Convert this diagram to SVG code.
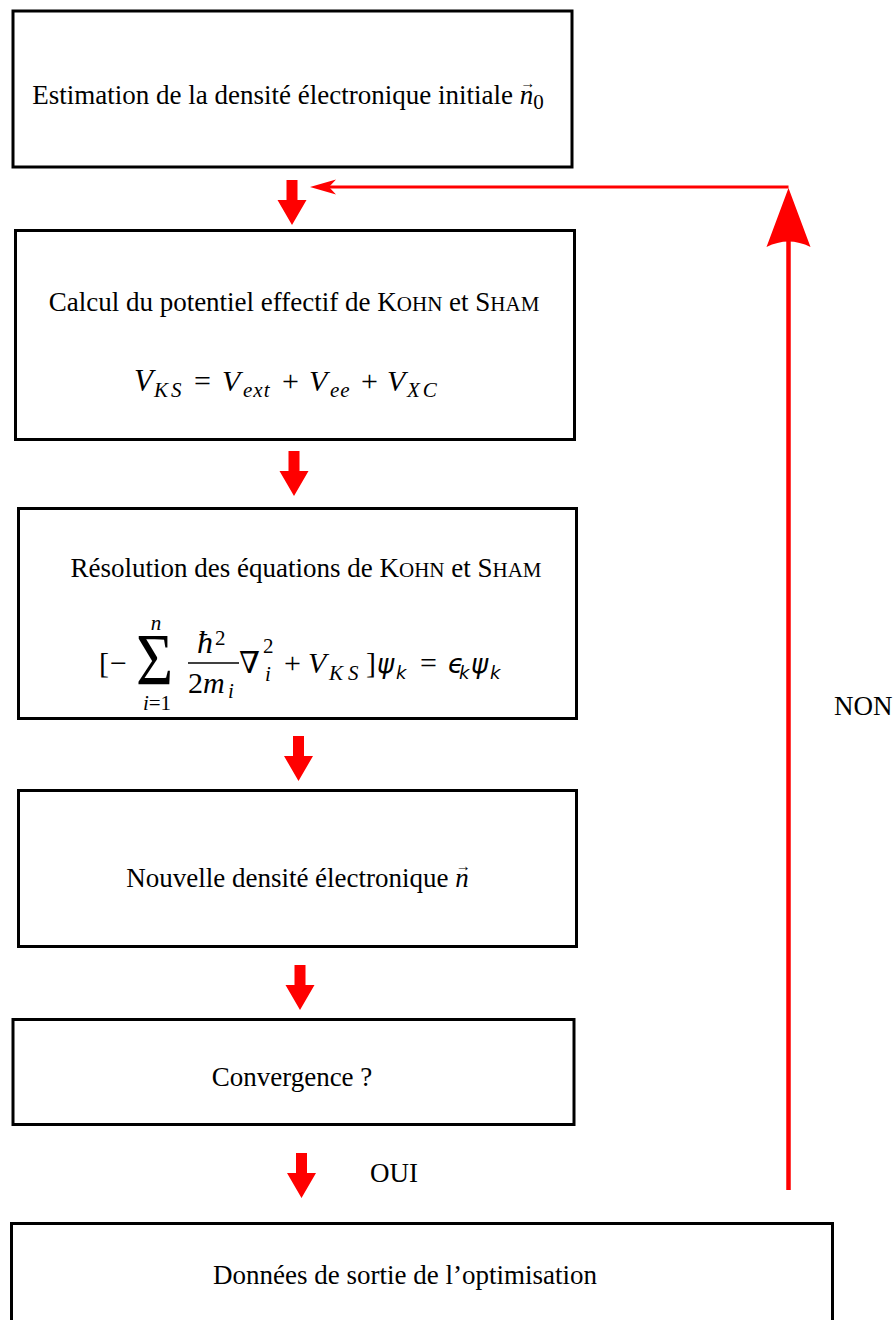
<svg xmlns="http://www.w3.org/2000/svg" width="896" height="1320" viewBox="0 0 896 1320">
<style>
.box{fill:#fff;stroke:#000;stroke-width:3}
.t{font-family:"Liberation Serif","DejaVu Serif",serif;font-size:27px;fill:#000}
.m{font-family:"Liberation Serif","DejaVu Serif",serif;font-size:30px;fill:#000}
.s{font-family:"DejaVu Sans","Liberation Sans",sans-serif;font-size:26px;fill:#000;font-style:italic}
.ss{font-family:"DejaVu Sans","Liberation Sans",sans-serif;font-size:18px;fill:#000;font-style:italic}
.i{font-style:italic}
.sc{font-size:21px}
.sub{font-size:21px}
.vec{font-size:15px;font-style:normal}
.red{fill:#ff0000}
</style>
<defs>
<path id="blk" d="M-5.5,0 H5.5 V20 H14.5 L0,45 L-14.5,20 H-5.5 Z"/>
</defs>
<rect width="896" height="1320" fill="#fff"/>

<g id="n1">
<rect class="box" x="13" y="11" width="559" height="156"/>
<text class="t" x="288" y="104" text-anchor="middle">Estimation de la densité électronique initiale <tspan class="i">n</tspan><tspan class="vec" dx="-13" dy="-16">→</tspan><tspan class="sub" dx="-2" dy="21">0</tspan></text>
</g>

<g id="n2">
<rect class="box" x="15.5" y="230.5" width="559" height="209"/>
<text class="t" x="294" y="311" text-anchor="middle">Calcul du potentiel effectif de K<tspan class="sc">OHN</tspan> et S<tspan class="sc">HAM</tspan></text>
<g class="m i">
<text x="134" y="391" font-size="31">V</text>
<text x="154" y="397" class="sub" letter-spacing="3">KS</text>
<text x="194" y="391" font-style="normal">=</text>
<text x="222" y="391">V</text>
<text x="243" y="397" class="sub" letter-spacing="1">ext</text>
<text x="282" y="391" font-style="normal">+</text>
<text x="309" y="391">V</text>
<text x="330" y="397" class="sub" letter-spacing="1">ee</text>
<text x="361" y="391" font-style="normal">+</text>
<text x="387" y="391">V</text>
<text x="407" y="397" class="sub" letter-spacing="3">XC</text>
</g>
</g>

<g id="n3">
<rect class="box" x="18.5" y="508.5" width="558" height="210"/>
<text class="t" x="306" y="577" text-anchor="middle">Résolution des équations de K<tspan class="sc">OHN</tspan> et S<tspan class="sc">HAM</tspan></text>
<text class="m" x="99" y="673">[</text>
<text class="m" x="110" y="673">−</text>
<text class="m" transform="translate(136,685) scale(0.85,1)" style="font-size:75px">Σ</text>
<text class="m i sub" x="156" y="630" text-anchor="middle">n</text>
<text class="m sub" x="157" y="710" text-anchor="middle"><tspan class="i">i</tspan>=1</text>
<text class="m i" x="197" y="653" style="font-size:32px">ħ</text>
<text class="m sub" x="215" y="645">2</text>
<line x1="188" y1="663" x2="239" y2="663" stroke="#000" stroke-width="1.4"/>
<text class="m" x="188" y="693">2<tspan class="i">m</tspan></text>
<text class="m i sub" x="228" y="698">i</text>
<text class="m" x="239" y="673">∇</text>
<text class="m sub" x="263" y="653">2</text>
<text class="m i sub" x="265" y="681">i</text>
<text class="m" x="284" y="673">+</text>
<text class="m i" x="308" y="673">V</text>
<text class="m i sub" x="329" y="680" letter-spacing="5">KS</text>
<text class="m" x="366" y="673">]</text>
<text class="s" x="377" y="673">ψ</text>
<text class="ss" x="396" y="679">k</text>
<text class="m" x="420" y="673">=</text>
<text class="s" x="448" y="673">ϵ</text>
<text class="ss" x="459" y="679">k</text>
<text class="s" x="471" y="673">ψ</text>
<text class="ss" x="490" y="679">k</text>
</g>

<g id="n4">
<rect class="box" x="18.5" y="790.5" width="558" height="156"/>
<text class="t" x="298.5" y="887" text-anchor="middle">Nouvelle densité électronique <tspan class="i">n</tspan><tspan class="vec" dx="-13" dy="-16">→</tspan></text>
</g>

<g id="n5">
<rect class="box" x="13" y="1019.5" width="561" height="105"/>
<text class="t" x="292" y="1086" text-anchor="middle">Convergence ?</text>
</g>

<g id="n6">
<rect class="box" x="11.5" y="1223.5" width="821" height="110"/>
<text class="t" x="405" y="1284" text-anchor="middle">Données de sortie de l’optimisation</text>
</g>

<g id="connectors">
<use href="#blk" class="red" x="292" y="180"/>
<use href="#blk" class="red" x="294" y="451"/>
<use href="#blk" class="red" x="298.5" y="736"/>
<use href="#blk" class="red" x="300" y="965"/>
<use href="#blk" class="red" x="301.5" y="1153"/>
<line x1="788.5" y1="1190" x2="788.5" y2="238" stroke="#ff0000" stroke-width="4.5"/>
<path class="red" d="M788.5,188 L810.5,247 Q788.5,236 766.5,247 Z"/>
<line x1="788.5" y1="187" x2="328" y2="187" stroke="#ff0000" stroke-width="3"/>
<path class="red" d="M310,187 L336,179.5 L329,187 L336,194.5 Z"/>
<text class="t" x="370" y="1182">OUI</text>
<text class="t" x="834" y="715">NON</text>
</g>
</svg>
